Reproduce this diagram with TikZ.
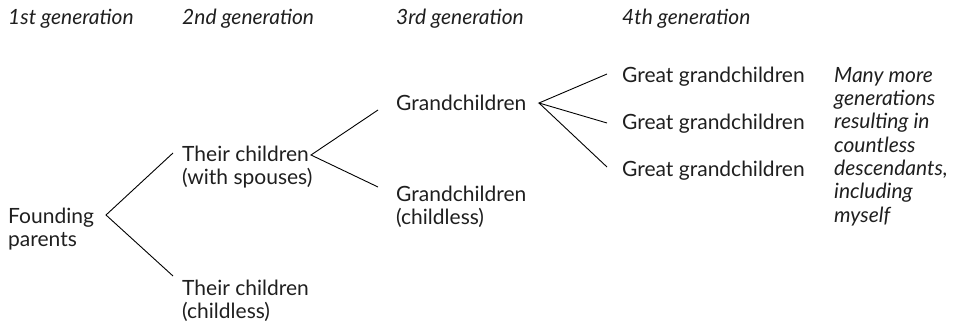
\documentclass[tikz,border=0pt]{standalone}
\usepackage{fontspec}
\setmainfont{Lato}
\begin{document}
\begin{tikzpicture}[x=1pt,y=-1pt,
  % multi-line nodes are placed by the baseline of their last line
  lbl/.style={anchor=base west,inner sep=0pt,align=left,
    font=\fontsize{21}{22.5}\selectfont,text=black!88},
  head/.style={lbl,font=\fontsize{21}{23.3}\selectfont\itshape},
  branch/.style={draw=black,line width=0.9pt,line join=miter}]
\useasboundingbox (0,0) rectangle (964,324);

% generation headings
\node[head] (h1) at (8,24) {1st generation};
\node[head] (h2) at (182,24) {2nd generation};
\node[head] (h3) at (396,24) {3rd generation};
\node[head] (h4) at (622,24) {4th generation};

% family members
\node[lbl] (fp) at (8,246) {Founding\\parents};
\node[lbl] (tcs) at (182,184) {Their children\\(with spouses)};
\node[lbl] (tcc) at (182,318) {Their children\\(childless)};
\node[lbl] (gc) at (396,110) {Grandchildren};
\node[lbl] (gcc) at (396,224) {Grandchildren\\(childless)};
\node[lbl] (gg1) at (622,82) {Great grandchildren};
\node[lbl] (gg2) at (622,129) {Great grandchildren};
\node[lbl] (gg3) at (622,176) {Great grandchildren};
\node[head] (more) at (834,222) {Many more\\generations\\resulting in\\countless\\descendants,\\including\\myself};

% branch points and branch ends
\coordinate (fpA) at (106,215);
\coordinate (tcsA) at (311,155);
\coordinate (gcA) at (539,103);
\coordinate (e1) at (173,153);
\coordinate (e2) at (173,276);
\coordinate (e3) at (378,110);
\coordinate (e4) at (378,187);
\coordinate (e5) at (607,74);
\coordinate (e6) at (607,123);
\coordinate (e7) at (607,167);

\draw[branch] (e1) -- (fpA) -- (e2);
\draw[branch] (e3) -- (tcsA) -- (e4);
\draw[branch] (e5) -- (gcA) -- (e6);
\draw[branch] (gcA) -- (e7);
\end{tikzpicture}
\end{document}
